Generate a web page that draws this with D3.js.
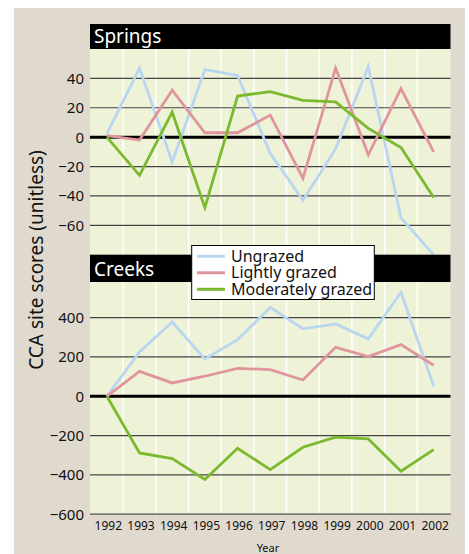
<!DOCTYPE html>
<html><head><meta charset="utf-8">
<script src="https://cdn.jsdelivr.net/npm/d3@7"></script>
<style>body{margin:0;background:#fff}svg{display:block;font-family:"Noto Sans",sans-serif}</style>
</head><body><svg id="c" width="469" height="554"></svg>
<script>
const years = [1992,1993,1994,1995,1996,1997,1998,1999,2000,2001,2002];
const seriesNames = ["Ungrazed","Lightly grazed","Moderately grazed"];
const seriesColors = ["#b9d6f1","#e0959d","#7bb92f"];
const springsUngrazed = [2,47,-17,46,42,-11,-43,-8,48,-55,-80];
const springsLight = [1,-2,32,3,3,15,-28,47,-12,33,-10];
const springsModerate = [0,-26,17,-48,28,31,25,24,6,-7,-41];
const creeksUngrazed = [0,226,378,190,288,452,343,368,292,529,51];
const creeksLight = [0,127,68,102,142,136,83,249,202,263,158];
const creeksModerate = [0,-288,-317,-423,-264,-373,-259,-208,-217,-381,-271];
const springsTicks = [40,20,0,-20,-40,-60];
const creeksTicks = [400,200,0,-200,-400,-600];

const svg = d3.select("#c");
svg.append("rect").attr("x",14).attr("y",8).attr("width",451).attr("height",546).attr("fill","#e0d9cd");

const x = d3.scaleLinear().domain([1991.5,2002.5]).range([90.5,450]);
const left = 90, right = 450.5;

function panel(title, hTop, plotTop, plotBottom, y, ticks, data){
  const g = svg.append("g");
  g.append("rect").attr("x",left).attr("y",plotTop).attr("width",right-left).attr("height",plotBottom-plotTop).attr("fill","#eef3d8");
  // white vertical separators
  g.selectAll("line.v").data(years.slice(0,-1)).join("line")
    .attr("x1",d=>x(d+0.5)).attr("x2",d=>x(d+0.5)).attr("y1",plotTop).attr("y2",plotBottom)
    .attr("stroke","#ffffff").attr("stroke-width",1.5);
  // horizontal grid
  g.selectAll("line.h").data(ticks).join("line")
    .attr("x1",left).attr("x2",right).attr("y1",d=>y(d)).attr("y2",d=>y(d))
    .attr("stroke",d=>d===0?"#000":"#444").attr("stroke-width",d=>d===0?3:1.2);
  g.selectAll("text.t").data(ticks).join("text")
    .attr("x",84).attr("y",d=>y(d)).attr("dy","0.36em").attr("text-anchor","end")
    .attr("font-size",15).attr("fill","#111")
    .text(d=>d<0?"\u2212"+Math.abs(d):d);
  const line = d3.line().x((d,i)=>x(years[i])).y(d=>y(d));
  data.forEach((s,i)=>{
    g.append("path").attr("d",line(s)).attr("fill","none").attr("stroke",seriesColors[i])
      .attr("stroke-width",2.8).attr("stroke-linejoin","miter");
  });
  return g;
}

const ySpr = d3.scaleLinear().domain([-80,60]).range([254.7,49]);
const yCrk = d3.scaleLinear().domain([-600,600]).range([514.3,278.3]);

panel("Springs",24,49,254.7,ySpr,springsTicks,[springsUngrazed,springsLight,springsModerate]);
panel("Creeks",254.7,282,514.3,yCrk,creeksTicks,[creeksUngrazed,creeksLight,creeksModerate]);

// headers
[["Springs",24,49],["Creeks",254.7,282]].forEach(([t,a,b])=>{
  svg.append("rect").attr("x",left).attr("y",a).attr("width",right-left).attr("height",b-a).attr("fill","#000");
  svg.append("text").attr("x",94).attr("y",b-6.5).attr("fill","#fff").attr("font-size",19).text(t);
});

// bottom axis line
svg.append("line").attr("x1",left).attr("x2",right).attr("y1",514.3).attr("y2",514.3).attr("stroke","#777").attr("stroke-width",1.5);

// x labels
svg.selectAll("text.x").data(years).join("text")
  .attr("x",d=>x(d)+1.5).attr("y",530).attr("text-anchor","middle").attr("font-size",12).attr("fill","#111")
  .text(d=>d);
svg.append("text").attr("x",268).attr("y",551.5).attr("text-anchor","middle").attr("font-size",11).attr("fill","#111").text("Year");

svg.append("text").attr("transform","translate(43,260) rotate(-90)").attr("text-anchor","middle")
  .attr("font-size",19).attr("fill","#111").text("CCA site scores (unitless)");

// legend
const lg = svg.append("g");
lg.append("rect").attr("x",191.7).attr("y",245.5).attr("width",182.6).attr("height",54).attr("fill","#fff").attr("stroke","#000").attr("stroke-width",1);
seriesNames.forEach((n,i)=>{
  const yy = 256.3 + i*16.5;
  lg.append("line").attr("x1",197).attr("x2",225).attr("y1",yy).attr("y2",yy).attr("stroke",seriesColors[i]).attr("stroke-width",3);
  lg.append("text").attr("x",231).attr("y",yy+5.2).attr("font-size",16).attr("fill","#111").text(n);
});
</script></body></html>
